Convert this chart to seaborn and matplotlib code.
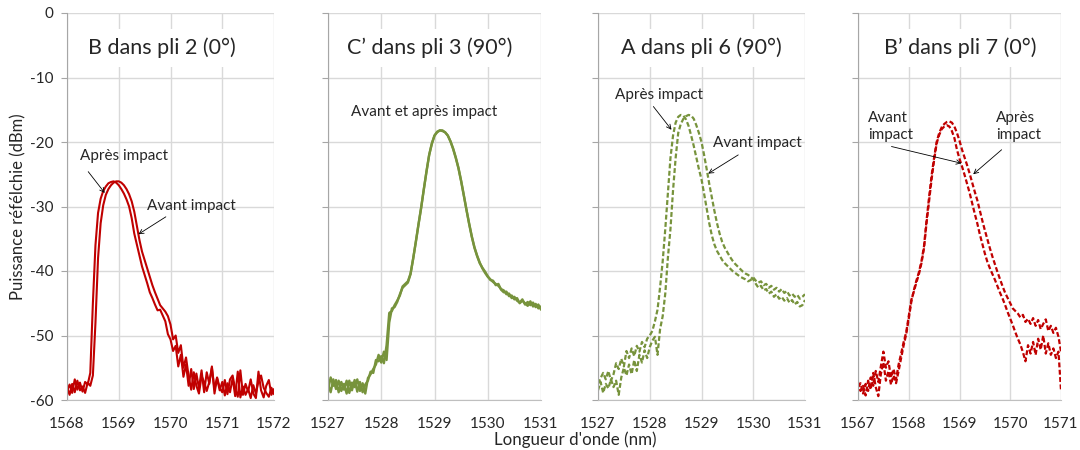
import matplotlib
matplotlib.use('Agg')
import matplotlib.pyplot as plt
import seaborn as sns

sns.set_style('whitegrid')
plt.rcParams['font.family'] = ['Lato', 'DejaVu Sans']
plt.rcParams['axes.unicode_minus'] = False

RED = '#C00000'
GREEN = '#77933C'

# ---- data (wavelength in nm, power in dBm) ----
wl_1568 = [1568.00, 1568.05, 1568.10, 1568.15, 1568.20, 1568.25, 1568.30, 1568.35, 1568.40, 1568.45,
           1568.50, 1568.55, 1568.60, 1568.65, 1568.70, 1568.75, 1568.80, 1568.85, 1568.90, 1568.95,
           1569.00, 1569.05, 1569.10, 1569.15, 1569.20, 1569.25, 1569.30, 1569.35, 1569.40, 1569.45,
           1569.50, 1569.55, 1569.60, 1569.65, 1569.70, 1569.75, 1569.80, 1569.85, 1569.90, 1569.95,
           1570.00, 1570.05, 1570.10, 1570.15, 1570.20, 1570.25, 1570.30, 1570.35, 1570.40, 1570.45,
           1570.50, 1570.55, 1570.60, 1570.65, 1570.70, 1570.75, 1570.80, 1570.85, 1570.90, 1570.95,
           1571.00, 1571.05, 1571.10, 1571.15, 1571.20, 1571.25, 1571.30, 1571.35, 1571.40, 1571.45,
           1571.50, 1571.55, 1571.60, 1571.65, 1571.70, 1571.75, 1571.80, 1571.85, 1571.90, 1571.95,
           1572.00]
wl_1527 = [1527.00, 1527.05, 1527.10, 1527.15, 1527.20, 1527.25, 1527.30, 1527.35, 1527.40, 1527.45,
           1527.50, 1527.55, 1527.60, 1527.65, 1527.70, 1527.75, 1527.80, 1527.85, 1527.90, 1527.95,
           1528.00, 1528.05, 1528.10, 1528.15, 1528.20, 1528.25, 1528.30, 1528.35, 1528.40, 1528.45,
           1528.50, 1528.55, 1528.60, 1528.65, 1528.70, 1528.75, 1528.80, 1528.85, 1528.90, 1528.95,
           1529.00, 1529.05, 1529.10, 1529.15, 1529.20, 1529.25, 1529.30, 1529.35, 1529.40, 1529.45,
           1529.50, 1529.55, 1529.60, 1529.65, 1529.70, 1529.75, 1529.80, 1529.85, 1529.90, 1529.95,
           1530.00, 1530.05, 1530.10, 1530.15, 1530.20, 1530.25, 1530.30, 1530.35, 1530.40, 1530.45,
           1530.50, 1530.55, 1530.60, 1530.65, 1530.70, 1530.75, 1530.80, 1530.85, 1530.90, 1530.95,
           1531.00]
wl_1567 = [1567.00, 1567.05, 1567.10, 1567.15, 1567.20, 1567.25, 1567.30, 1567.35, 1567.40, 1567.45,
           1567.50, 1567.55, 1567.60, 1567.65, 1567.70, 1567.75, 1567.80, 1567.85, 1567.90, 1567.95,
           1568.00, 1568.05, 1568.10, 1568.15, 1568.20, 1568.25, 1568.30, 1568.35, 1568.40, 1568.45,
           1568.50, 1568.55, 1568.60, 1568.65, 1568.70, 1568.75, 1568.80, 1568.85, 1568.90, 1568.95,
           1569.00, 1569.05, 1569.10, 1569.15, 1569.20, 1569.25, 1569.30, 1569.35, 1569.40, 1569.45,
           1569.50, 1569.55, 1569.60, 1569.65, 1569.70, 1569.75, 1569.80, 1569.85, 1569.90, 1569.95,
           1570.00, 1570.05, 1570.10, 1570.15, 1570.20, 1570.25, 1570.30, 1570.35, 1570.40, 1570.45,
           1570.50, 1570.55, 1570.60, 1570.65, 1570.70, 1570.75, 1570.80, 1570.85, 1570.90, 1570.95,
           1571.00]

# B dans pli 2 (0°)
p1_apres = [-58.6, -57.6, -58.9, -56.8, -58.4, -57.3, -58.7, -57.2, -57.6, -55.8,
            -45.0, -36.0, -31.0, -28.8, -27.6, -26.9, -26.4, -26.2, -26.1, -26.3,
            -26.7, -27.3, -28.0, -28.9, -30.0, -31.8, -34.2, -35.9, -37.6, -39.3,
            -40.6, -41.9, -43.3, -44.2, -45.2, -46.1, -46.0, -46.9, -47.8, -49.8,
            -50.6, -52.4, -51.6, -54.8, -53.0, -56.4, -54.5, -57.8, -55.2, -58.3,
            -55.9, -58.2, -55.4, -58.8, -55.7, -57.5, -54.8, -59.0, -56.6, -58.5,
            -57.2, -59.3, -57.4, -58.8, -56.6, -59.4, -55.6, -59.6, -57.9, -59.2,
            -58.3, -59.7, -57.7, -59.0, -57.1, -56.2, -58.1, -58.9, -59.5, -58.1,
            -59.1]
p1_avant = [-58.0, -59.2, -57.5, -58.8, -57.0, -58.5, -57.9, -58.9, -57.3, -57.8,
            -56.2, -48.0, -38.0, -32.6, -29.8, -28.2, -27.3, -26.7, -26.3, -26.1,
            -26.1, -26.3, -26.7, -27.3, -28.1, -29.2, -30.8, -33.0, -35.2, -37.0,
            -38.3, -39.6, -40.9, -42.2, -43.3, -44.3, -45.3, -45.8, -46.3, -47.0,
            -48.3, -50.6, -50.0, -52.7, -51.5, -55.0, -53.4, -56.3, -58.4, -55.7,
            -57.8, -59.0, -56.3, -57.2, -58.6, -57.2, -55.0, -58.3, -56.5, -58.1,
            -58.8, -56.9, -59.1, -56.8, -56.2, -58.3, -59.5, -55.4, -59.2, -57.5,
            -58.7, -56.8, -59.0, -59.7, -55.6, -58.5, -59.6, -57.8, -56.9, -59.2,
            -58.3]

# C' dans pli 3 (90°)
p2_avant = [-58.5, -56.5, -57.8, -56.9, -58.8, -57.2, -58.4, -57.0, -58.9, -57.3,
            -58.0, -56.8, -58.6, -57.4, -59.0, -56.6, -56.0, -55.2, -54.5, -53.0,
            -54.2, -52.5, -53.8, -48.0, -45.8, -45.6, -44.8, -43.6, -42.6, -42.2,
            -41.8, -40.5, -38.0, -35.5, -32.8, -30.2, -27.3, -24.5, -22.0, -20.2,
            -19.0, -18.5, -18.2, -18.2, -18.5, -19.0, -19.9, -21.0, -22.4, -24.0,
            -26.0, -28.2, -30.5, -32.6, -34.6, -36.3, -37.6, -38.7, -39.6, -40.3,
            -40.9, -41.3, -41.7, -42.0, -42.3, -42.8, -43.0, -43.6, -43.5, -44.2,
            -44.0, -44.6, -44.9, -44.4, -45.2, -44.8, -45.3, -44.9, -45.6, -45.2,
            -46.0]
p2_apres = [-57.5, -58.8, -56.8, -58.3, -57.0, -58.6, -57.5, -59.0, -57.0, -58.5,
            -56.9, -58.7, -57.2, -58.8, -57.6, -57.0, -55.6, -55.8, -53.8, -54.0,
            -53.2, -54.3, -51.5, -46.5, -46.2, -45.3, -44.6, -43.8, -42.4, -42.0,
            -41.6, -40.4, -38.1, -35.4, -32.7, -30.1, -27.3, -24.6, -22.0, -20.3,
            -19.0, -18.4, -18.2, -18.3, -18.5, -19.0, -19.9, -21.1, -22.5, -24.1,
            -26.1, -28.3, -30.5, -32.7, -34.7, -36.4, -37.7, -38.8, -39.5, -40.1,
            -40.8, -41.4, -41.5, -42.2, -42.0, -42.9, -43.3, -43.2, -43.9, -43.8,
            -44.4, -44.2, -45.0, -44.6, -45.0, -45.4, -44.7, -45.5, -45.1, -45.8,
            -45.5]

# A dans pli 6 (90°)
p3_apres = [-57.5, -56.6, -55.8, -56.8, -55.5, -57.0, -56.0, -54.3, -55.2, -53.6,
            -54.8, -52.4, -53.5, -52.0, -53.2, -51.6, -52.5, -51.0, -51.8, -50.5,
            -50.0, -49.3, -47.8, -46.0, -42.5, -38.5, -33.5, -28.0, -22.5, -19.0,
            -17.0, -16.1, -15.8, -15.9, -16.5, -17.5, -19.0, -20.6, -22.4, -24.2,
            -25.8, -28.0, -30.3, -32.6, -34.5, -35.9, -36.9, -37.6, -38.3, -38.8,
            -39.2, -39.6, -40.0, -40.3, -40.6, -40.9, -41.1, -41.3, -41.6, -41.4,
            -41.0, -41.5, -41.8, -41.6, -42.2, -42.0, -42.6, -42.3, -42.9, -42.6,
            -43.2, -42.8, -43.4, -43.1, -43.8, -43.5, -44.0, -43.7, -44.3, -44.0,
            -43.6]
p3_avant = [-58.5, -57.2, -58.9, -57.5, -58.2, -56.8, -58.0, -57.0, -59.2, -56.5,
            -55.0, -56.2, -54.5, -56.0, -53.8, -55.5, -53.0, -54.2, -52.3, -53.5,
            -51.8, -50.8, -50.2, -53.0, -49.0, -47.0, -43.5, -38.0, -33.5, -27.5,
            -22.5, -18.6, -17.2, -16.4, -16.0, -15.8, -15.9, -16.4, -17.4, -18.6,
            -20.0, -22.0, -24.2, -26.5, -28.6, -30.7, -32.6, -34.2, -35.5, -36.4,
            -37.1, -37.8, -38.4, -38.9, -39.3, -39.7, -40.1, -40.4, -40.6, -40.9,
            -41.3, -42.0, -42.6, -42.3, -43.0, -42.8, -43.5, -43.2, -44.0, -43.6,
            -44.3, -44.0, -44.6, -44.2, -44.9, -44.5, -45.2, -44.8, -45.5, -45.3,
            -44.5]

# B' dans pli 7 (0°)
p4_avant = [-58.0, -57.4, -59.0, -57.5, -58.6, -56.5, -57.8, -55.5, -57.2, -54.8,
            -52.5, -55.0, -54.0, -56.5, -55.2, -56.8, -54.5, -52.8, -51.0, -49.5,
            -47.0, -44.5, -43.2, -41.8, -40.5, -38.8, -36.5, -32.6, -29.2, -25.8,
            -22.8, -20.2, -18.9, -18.0, -17.6, -17.4, -17.6, -18.3, -19.4, -21.2,
            -22.6, -23.8, -25.1, -26.5, -27.9, -29.5, -31.1, -32.6, -34.3, -35.8,
            -37.3, -38.6, -39.6, -40.5, -41.4, -42.4, -43.4, -44.3, -45.3, -46.4,
            -47.4, -48.4, -49.5, -50.5, -51.4, -52.6, -54.0, -51.5, -52.8, -51.0,
            -53.0, -50.5, -52.2, -50.0, -52.8, -51.2, -53.0, -52.0, -53.5, -52.5,
            -58.5]
p4_apres = [-57.2, -58.6, -57.8, -59.3, -57.0, -58.4, -55.8, -58.0, -59.4, -56.0,
            -54.2, -57.0, -55.5, -57.6, -56.2, -57.4, -55.5, -53.5, -51.5, -49.8,
            -47.4, -44.8, -43.0, -41.5, -40.2, -38.5, -36.2, -32.2, -28.6, -25.2,
            -22.4, -20.0, -18.6, -17.7, -17.2, -16.9, -16.8, -17.0, -17.6, -18.6,
            -19.8, -21.2, -22.4, -23.6, -24.9, -26.3, -27.7, -29.0, -30.6, -32.2,
            -33.7, -35.1, -36.5, -37.8, -39.0, -40.2, -41.3, -42.4, -43.4, -44.2,
            -45.0, -45.8, -46.2, -46.6, -47.2, -46.8, -47.9, -47.4, -48.2, -47.3,
            -48.5, -47.6, -49.0, -48.2, -47.5, -49.3, -48.5, -49.6, -48.8, -50.2,
            -52.5]

xticks_1568 = [1568, 1569, 1570, 1571, 1572]
xticks_1527 = [1527, 1528, 1529, 1530, 1531]
xticks_1567 = [1567, 1568, 1569, 1570, 1571]
yticks = [-60, -50, -40, -30, -20, -10, 0]

fig = plt.figure(figsize=(10.8, 4.5), dpi=100)
W, H = 1080, 450
boxes = [(67, 207), (328, 213), (598, 207), (858, 203)]
axes = [fig.add_axes([l / W, 1 - 400 / H, w / W, 387 / H]) for l, w in boxes]

DASH = (0, (2.2, 1.1))
LW = 1.5
ANN = 11


def style_axis(ax, xticks, show_ylabels):
    ax.set_xlim(xticks[0], xticks[-1])
    ax.set_ylim(-60, 0)
    ax.set_xticks(xticks)
    ax.set_yticks(yticks)
    ax.grid(True, color='#d9d9d9', lw=1)
    for s in ['top', 'right']:
        ax.spines[s].set_visible(False)
    ax.spines['left'].set_color('#a6a6a6')
    ax.spines['bottom'].set_color('#bfbfbf')
    ax.tick_params(axis='y', left=True, length=4, color='#a6a6a6', pad=6,
                   labelsize=11, labelleft=show_ylabels)
    ax.tick_params(axis='x', bottom=False, pad=9, labelsize=11)
    ax.set_xlabel('')
    ax.set_ylabel('')


def add_title(ax, text, xfrac):
    ax.text(xfrac, 0.91, text, transform=ax.transAxes, ha='center', va='center',
            fontsize=15.5, bbox=dict(fc='white', ec='none', pad=6), zorder=4)


def arrow(ax, head, tail):
    ax.annotate('', xy=head, xytext=tail,
                arrowprops=dict(arrowstyle='->', color='black', lw=0.6,
                                shrinkA=0, shrinkB=0, mutation_scale=8))


# ---- panel 1 ----
ax = axes[0]
sns.lineplot(x=wl_1568, y=p1_apres, ax=ax, color=RED, lw=LW)
sns.lineplot(x=wl_1568, y=p1_avant, ax=ax, color=RED, lw=LW)
style_axis(ax, xticks_1568, True)
add_title(ax, 'B dans pli 2 (0°)', 0.46)
ax.text(1568.25, -22.2, 'Après impact', fontsize=ANN, va='center')
arrow(ax, (1568.73, -27.9), (1568.41, -24.6))
ax.text(1569.54, -29.9, 'Avant impact', fontsize=ANN, va='center')
arrow(ax, (1569.38, -34.3), (1569.91, -31.6))

# ---- panel 2 ----
ax = axes[1]
sns.lineplot(x=wl_1527, y=p2_avant, ax=ax, color=GREEN, lw=LW + 0.2)
sns.lineplot(x=wl_1527, y=p2_apres, ax=ax, color=GREEN, lw=LW + 0.2)
style_axis(ax, xticks_1527, False)
add_title(ax, 'C’ dans pli 3 (90°)', 0.477)
ax.text(1528.8, -15.4, 'Avant et après impact', fontsize=ANN, ha='center', va='center')

# ---- panel 3 ----
ax = axes[2]
sns.lineplot(x=wl_1527, y=p3_apres, ax=ax, color=GREEN, lw=LW + 0.1, linestyle=DASH)
sns.lineplot(x=wl_1527, y=p3_avant, ax=ax, color=GREEN, lw=LW + 0.1, linestyle=DASH)
style_axis(ax, xticks_1527, False)
add_title(ax, 'A dans pli 6 (90°)', 0.50)
ax.text(1527.33, -12.7, 'Après impact', fontsize=ANN, va='center')
arrow(ax, (1528.42, -18.1), (1528.07, -14.5))
ax.text(1529.22, -20.1, 'Avant impact', fontsize=ANN, va='center')
arrow(ax, (1529.13, -24.9), (1529.71, -22.0))

# ---- panel 4 ----
ax = axes[3]
sns.lineplot(x=wl_1567, y=p4_avant, ax=ax, color=RED, lw=LW + 0.1, linestyle=DASH)
sns.lineplot(x=wl_1567, y=p4_apres, ax=ax, color=RED, lw=LW + 0.1, linestyle=DASH)
style_axis(ax, xticks_1567, False)
add_title(ax, 'B’ dans pli 7 (0°)', 0.506)
ax.text(1567.2, -17.6, 'Avant\nimpact', fontsize=ANN, va='center', linespacing=1.2)
arrow(ax, (1569.04, -23.3), (1567.66, -20.7))
ax.text(1569.72, -17.6, 'Après\nimpact', fontsize=ANN, va='center', linespacing=1.2)
arrow(ax, (1569.27, -25.0), (1569.83, -21.2))

fig.text(18 / W, 1 - 207 / H, 'Puissance réfélchie (dBm)', rotation=90,
         ha='center', va='center', fontsize=12)
fig.text(575 / W, 1 - 440 / H, "Longueur d'onde (nm)", ha='center', va='center',
         fontsize=12.2)

fig.savefig('out.png', dpi=100)
